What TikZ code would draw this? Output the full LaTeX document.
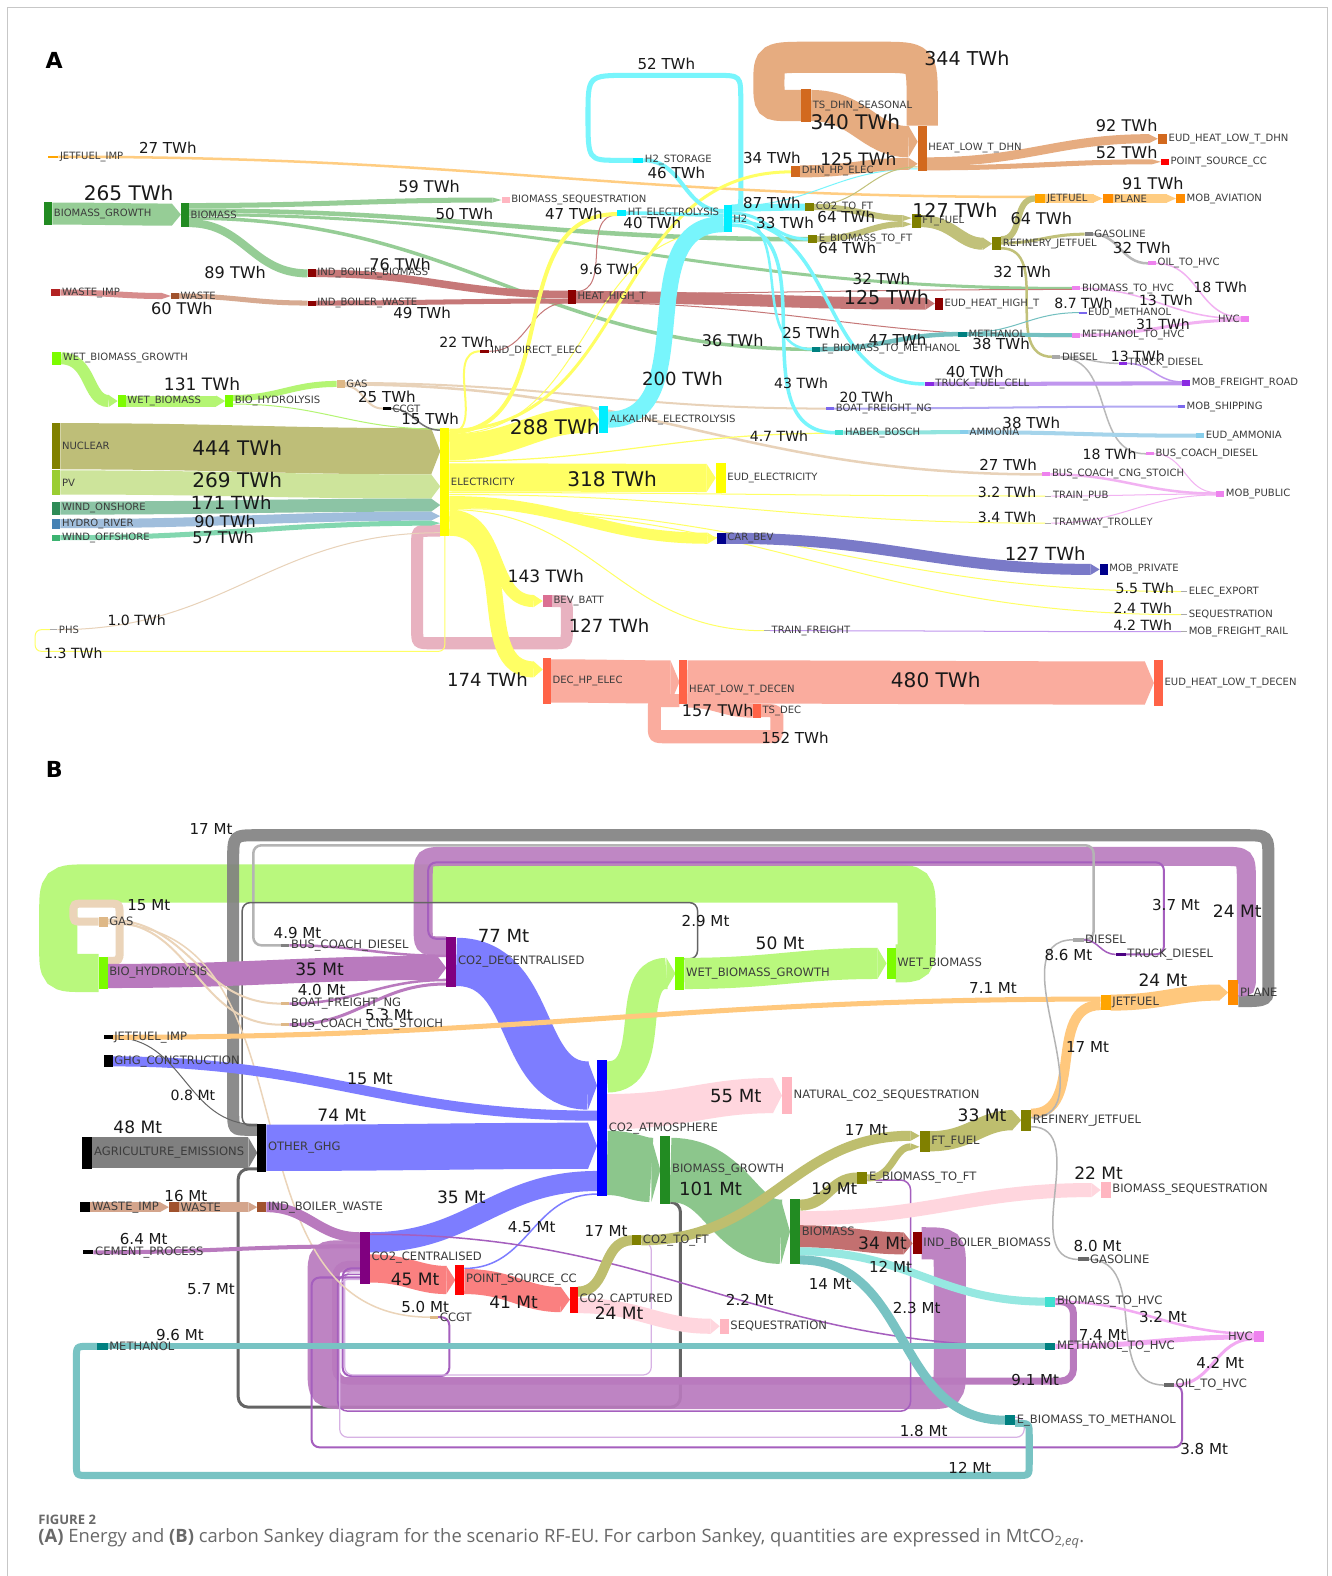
\documentclass[tikz,border=0pt]{standalone}
\usepackage{fontspec}
\setmainfont{DejaVu Sans}
\newfontfamily\capfont{Open Sans}
\usetikzlibrary{calc,arrows.meta}
\pgfdeclarelayer{back}
\pgfdeclarelayer{links}
\pgfsetlayers{back,links,main}
% node colours
\definecolor{nGreen}{RGB}{34,139,34}
\definecolor{nDred}{RGB}{139,0,0}
\definecolor{nFire}{RGB}{178,34,34}
\definecolor{nSienna}{RGB}{160,82,45}
\definecolor{nChoc}{RGB}{210,105,30}
\definecolor{nCyan}{RGB}{0,238,255}
\definecolor{nOlive}{RGB}{128,128,0}
\definecolor{nOrange}{RGB}{255,140,0}
\definecolor{nJet}{RGB}{255,165,0}
\definecolor{nGray}{RGB}{128,128,128}
\definecolor{nDgray}{RGB}{105,105,105}
\definecolor{nLgray}{RGB}{169,169,169}
\definecolor{nViolet}{RGB}{238,130,238}
\definecolor{nTeal}{RGB}{0,128,128}
\definecolor{nBviolet}{RGB}{138,43,226}
\definecolor{nMslate}{RGB}{123,104,238}
\definecolor{nTurq}{RGB}{64,224,208}
\definecolor{nSky}{RGB}{135,206,235}
\definecolor{nYellow}{RGB}{255,255,0}
\definecolor{nNavy}{RGB}{0,0,139}
\definecolor{nPvr}{RGB}{219,112,147}
\definecolor{nTomato}{RGB}{255,99,71}
\definecolor{nYgreen}{RGB}{154,205,50}
\definecolor{nSea}{RGB}{46,139,87}
\definecolor{nSteel}{RGB}{70,130,180}
\definecolor{nMsea}{RGB}{60,179,113}
\definecolor{nLawn}{RGB}{124,252,0}
\definecolor{nBurly}{RGB}{222,184,135}
\definecolor{nPink}{RGB}{255,182,193}
\definecolor{nRed}{RGB}{255,0,0}
\definecolor{nPurple}{RGB}{128,0,128}
\definecolor{nBlue}{RGB}{0,0,255}
\definecolor{nIndigo}{RGB}{75,0,130}
% link colours A
\definecolor{lgr}{RGB}{150,205,150}
\definecolor{jfl}{RGB}{255,205,130}
\definecolor{wredl}{RGB}{215,140,140}
\definecolor{tanl}{RGB}{215,170,145}
\definecolor{redl}{RGB}{198,120,120}
\definecolor{cyl}{RGB}{120,245,252}
\definecolor{dhnl}{RGB}{230,172,128}
\definecolor{olvl}{RGB}{193,193,122}
\definecolor{yel}{RGB}{255,255,100}
\definecolor{vil}{RGB}{242,178,242}
\definecolor{tel}{RGB}{115,192,192}
\definecolor{gyl}{RGB}{185,185,185}
\definecolor{pul}{RGB}{192,150,238}
\definecolor{sbl}{RGB}{178,168,242}
\definecolor{hbl}{RGB}{145,228,222}
\definecolor{aml}{RGB}{165,212,235}
\definecolor{bevl}{RGB}{122,122,200}
\definecolor{salm}{RGB}{250,172,158}
\definecolor{bpink}{RGB}{232,178,192}
\definecolor{nucl}{RGB}{190,190,120}
\definecolor{pvl}{RGB}{205,228,155}
\definecolor{wonl}{RGB}{140,196,165}
\definecolor{hydl}{RGB}{160,190,220}
\definecolor{wofl}{RGB}{130,215,175}
\definecolor{lawnl}{RGB}{180,245,115}
\definecolor{gasl}{RGB}{232,210,185}
% link colours B
\definecolor{lawnB}{RGB}{185,248,125}
\definecolor{purB}{RGB}{185,122,190}
\definecolor{purT}{RGB}{165,95,190}
\definecolor{purL}{RGB}{215,178,228}
\definecolor{blueB}{RGB}{125,125,255}
\definecolor{pinkB}{RGB}{255,214,222}
\definecolor{grnB}{RGB}{140,198,140}
\definecolor{grayB}{RGB}{128,128,128}
\definecolor{dkg}{RGB}{100,100,100}
\definecolor{jflB}{RGB}{255,200,125}
\definecolor{tanB}{RGB}{212,165,140}
\definecolor{salB}{RGB}{250,128,128}
\definecolor{olvB}{RGB}{190,190,110}
\definecolor{gyB}{RGB}{180,180,180}
\definecolor{redB}{RGB}{195,112,112}
\definecolor{turB}{RGB}{150,232,225}
\definecolor{telB}{RGB}{120,195,195}
\definecolor{vilB}{RGB}{242,170,242}
\definecolor{gasC}{RGB}{235,212,185}
\definecolor{lblc}{RGB}{60,60,60}
\definecolor{capc}{RGB}{105,105,105}
\definecolor{valc}{RGB}{25,25,25}

\newcommand{\snd}[8][]{%
  \node[box,minimum width=#5pt,minimum height=#6pt,fill=#7] (#2) at (#3,#4) {};
  \node[lbl,#1] (#2t) at (#2.east) {#8};}
\newcommand{\slk}[7][]{%
  \draw[line width=#6pt,draw=#7,#1] (#2.east |- 0,#3) to[out=0,in=180,looseness=1.1] (#4.west |- 0,#5);}

\begin{document}
\begin{tikzpicture}[x=1pt,y=-1pt,
  box/.style={inner sep=0pt,outer sep=0pt,anchor=north west,draw=none},
  lbl/.style={font=\fontsize{10}{10}\selectfont,text=lblc,anchor=west,inner sep=1.5pt},
  v/.style={font=\fontsize{#1}{#1}\selectfont,inner sep=0pt,text=valc},
  arr/.style={-{Triangle[length=9pt,width=0pt 1,line width=0pt]}},
]
\useasboundingbox (0,0) rectangle (1325,1568);
\begin{pgfonlayer}{back}
\fill[white] (0,0) rectangle (1325,1568);
\draw[black!22,line width=1pt] (7,1568) -- (7,7) -- (1321,7) -- (1321,1568);
\end{pgfonlayer}

\node[font=\fontsize{22}{22}\selectfont\bfseries] (pA) at (54,60) {A};
\node[font=\fontsize{22}{22}\selectfont\bfseries] (pB) at (54,766) {B};

% ================= PANEL A nodes =================
\snd{jfimp}{48}{155}{10}{2}{nJet}{JETFUEL\_IMP}
\snd{bg}{44}{201}{8}{23}{nGreen}{BIOMASS\_GROWTH}
\snd{bm}{180}{202}{8}{24}{nGreen}{BIOMASS}
\snd{bseq}{499}{196}{8}{6}{nPink}{BIOMASS\_SEQUESTRATION}
\snd{ibb}{306}{268}{8}{8}{nDred}{IND\_BOILER\_BIOMASS}
\snd{wimp}{51}{288}{9}{6}{nFire}{WASTE\_IMP}
\snd{wst}{170}{292}{8}{5}{nSienna}{WASTE}
\snd{ibw}{306}{299}{8}{5}{nDred}{IND\_BOILER\_WASTE}
\snd{hht}{565}{289}{8}{13}{nDred}{HEAT\_HIGH\_T}
\snd{eudhh}{930}{296}{8}{12}{nDred}{EUD\_HEAT\_HIGH\_T}
\snd{ide}{478}{348}{9}{3}{nDred}{IND\_DIRECT\_ELEC}
\snd{tsd}{797}{89}{10}{32}{nChoc}{TS\_DHN\_SEASONAL}
\snd{hld}{913}{125}{9}{45}{nChoc}{HEAT\_LOW\_T\_DHN}
\snd{dhp}{787}{165}{9}{11}{nChoc}{DHN\_HP\_ELEC}
\snd{eudhd}{1152}{133}{9}{10}{nChoc}{EUD\_HEAT\_LOW\_T\_DHN}
\snd{psc}{1155}{158}{8}{6}{nRed}{POINT\_SOURCE\_CC}
\snd{h2s}{630}{157}{10}{5}{nCyan}{H2\_STORAGE}
\snd{hte}{614}{209}{9}{6}{nCyan}{HT\_ELECTROLYSIS}
\snd{h2}{720}{204}{8}{27}{nCyan}{H2}
\snd{alk}{596}{404}{9}{27}{nCyan}{ALKALINE\_ELECTROLYSIS}
\snd{c2ft}{801}{202}{9}{8}{nOlive}{CO2\_TO\_FT}
\snd{ebft}{804}{234}{9}{8}{nOlive}{E\_BIOMASS\_TO\_FT}
\snd{ftf}{907}{213}{9}{14}{nOlive}{FT\_FUEL}
\snd{rjf}{987}{236}{9}{13}{nOlive}{REFINERY\_JETFUEL}
\snd{jf}{1030}{193}{10}{9}{nJet}{JETFUEL}
\snd{pl}{1097}{193}{10}{9}{nOrange}{PLANE}
\snd{mav}{1170}{193}{9}{9}{nOrange}{MOB\_AVIATION}
\snd{gsl}{1079}{231}{8}{4}{nGray}{GASOLINE}
\snd{oth}{1142}{260}{8}{4}{nViolet}{OIL\_TO\_HVC}
\snd{bth}{1067}{285}{8}{4}{nViolet}{BIOMASS\_TO\_HVC}
\snd[anchor=east,xshift=-8pt]{hvc}{1235}{314}{8}{6}{nViolet}{HVC}
\snd{eudme}{1074}{310}{7}{2}{nMslate}{EUD\_METHANOL}
\snd{meth}{953}{330}{9}{5}{nTeal}{METHANOL}
\snd{mth}{1067}{331}{8}{5}{nViolet}{METHANOL\_TO\_HVC}
\snd{ebm}{808}{345}{8}{5}{nTeal}{E\_BIOMASS\_TO\_METHANOL}
\snd{dsl}{1047}{353}{8}{4}{nLgray}{DIESEL}
\snd{trd}{1113}{360}{8}{3}{nBviolet}{TRUCK\_DIESEL}
\snd{tfc}{920}{380}{9}{4}{nBviolet}{TRUCK\_FUEL\_CELL}
\snd{mfr}{1176}{378}{8}{6}{nBviolet}{MOB\_FREIGHT\_ROAD}
\snd{bfng}{822}{405}{8}{3}{nMslate}{BOAT\_FREIGHT\_NG}
\snd{mshp}{1172}{403}{7}{3}{nMslate}{MOB\_SHIPPING}
\snd{hb}{831}{428}{8}{5}{nTurq}{HABER\_BOSCH}
\snd{amm}{955}{428}{8}{4}{nSky}{AMMONIA}
\snd{eudam}{1190}{431}{8}{5}{nSky}{EUD\_AMMONIA}
\snd{bcd}{1140}{450}{8}{3}{nViolet}{BUS\_COACH\_DIESEL}
\snd{bccng}{1037}{470}{8}{4}{nViolet}{BUS\_COACH\_CNG\_STOICH}
\snd{mpub}{1210}{489}{8}{5}{nViolet}{MOB\_PUBLIC}
\snd{trp}{1040}{493}{6}{1}{nLgray}{TRAIN\_PUB}
\snd{trm}{1040}{520}{6}{1}{nLgray}{TRAMWAY\_TROLLEY}
\snd{eudel}{712}{461}{10}{29}{nYellow}{EUD\_ELECTRICITY}
\snd{cbev}{713}{530}{9}{11}{nNavy}{CAR\_BEV}
\snd{mpriv}{1094}{561}{8}{11}{nNavy}{MOB\_PRIVATE}
\snd{elex}{1175}{588}{6}{1}{nLgray}{ELEC\_EXPORT}
\snd{seqA}{1175}{611}{6}{1}{nLgray}{SEQUESTRATION}
\snd{mfrail}{1175}{628}{6}{1}{nLgray}{MOB\_FREIGHT\_RAIL}
\snd{trf}{760}{627}{6}{1}{nLgray}{TRAIN\_FREIGHT}
\snd{bevb}{540}{592}{9}{12}{nPvr}{BEV\_BATT}
\snd{dhp2}{540}{655}{8}{45}{nTomato}{DEC\_HP\_ELEC}
\snd[yshift=-8pt]{hldc}{676}{657}{8}{43}{nTomato}{HEAT\_LOW\_T\_DECEN}
\snd{eudhdc}{1148}{657}{9}{45}{nTomato}{EUD\_HEAT\_LOW\_T\_DECEN}
\snd{tsdec}{749}{700}{8}{14}{nTomato}{TS\_DEC}
\snd{nuc}{52}{421}{8}{46}{nOlive}{NUCLEAR}
\snd{pv}{52}{468}{8}{24}{nYgreen}{PV}
\snd{won}{52}{499}{8}{13}{nSea}{WIND\_ONSHORE}
\snd{hyd}{52}{516}{8}{10}{nSteel}{HYDRO\_RIVER}
\snd{wof}{52}{532}{8}{6}{nMsea}{WIND\_OFFSHORE}
\snd{elc}{438}{426}{9}{107}{nYellow}{ELECTRICITY}
\snd{wbg}{52}{350}{9}{13}{nLawn}{WET\_BIOMASS\_GROWTH}
\snd{wb}{117}{393}{8}{12}{nLawn}{WET\_BIOMASS}
\snd{bh}{224}{393}{8}{12}{nLawn}{BIO\_HYDROLYSIS}
\snd{gas}{335}{378}{8}{8}{nBurly}{GAS}
\snd{ccgt}{381}{405}{8}{3}{black}{CCGT}
\snd{phs}{50}{626}{7}{1}{nLgray}{PHS}

% ================= PANEL B nodes =================
\begin{scope}[lbl/.append style={font=\fontsize{11.5}{11.5}\selectfont}]
\snd{gasB}{98}{912}{9}{10}{nBurly}{GAS}
\snd{bhB}{98}{952}{9}{32}{nLawn}{BIO\_HYDROLYSIS}
\snd{bcdB}{280}{939}{8}{3}{nGray}{BUS\_COACH\_DIESEL}
\snd{co2d}{444}{932}{10}{50}{nPurple}{CO2\_DECENTRALISED}
\snd{bfngB}{280}{997}{8}{3}{nBurly}{BOAT\_FREIGHT\_NG}
\snd{bccB}{280}{1018}{8}{3}{nBurly}{BUS\_COACH\_CNG\_STOICH}
\snd{wbgB}{672}{952}{9}{33}{nLawn}{WET\_BIOMASS\_GROWTH}
\snd{wbB}{882}{943}{9}{31}{nLawn}{WET\_BIOMASS}
\snd{dslB}{1068}{933}{10}{4}{nLgray}{DIESEL}
\snd{trdB}{1110}{948}{10}{3}{nIndigo}{TRUCK\_DIESEL}
\snd{jfB}{1095}{990}{10}{15}{nJet}{JETFUEL}
\snd{plB}{1222}{975}{10}{25}{nOrange}{PLANE}
\snd{jfimpB}{103}{1030}{9}{4}{black}{JETFUEL\_IMP}
\snd{ghgc}{103}{1050}{9}{12}{black}{GHG\_CONSTRUCTION}
\snd{co2a}{594}{1055}{10}{135}{nBlue}{CO2\_ATMOSPHERE}
\snd{ncs}{778}{1072}{10}{36}{nPink}{NATURAL\_CO2\_SEQUESTRATION}
\snd{agr}{82}{1131}{10}{32}{black}{AGRICULTURE\_EMISSIONS}
\snd{oghg}{256}{1118}{9}{48}{black}{OTHER\_GHG}
\snd{ftfB}{915}{1125}{10}{21}{nOlive}{FT\_FUEL}
\snd{rjfB}{1016}{1104}{10}{21}{nOlive}{REFINERY\_JETFUEL}
\snd{bgB}{657}{1130}{10}{68}{nGreen}{BIOMASS\_GROWTH}
\snd{ebftB}{853}{1166}{10}{12}{nOlive}{E\_BIOMASS\_TO\_FT}
\snd{bseqB}{1095}{1176}{10}{16}{nPink}{BIOMASS\_SEQUESTRATION}
\snd{wimpB}{80}{1196}{10}{10}{black}{WASTE\_IMP}
\snd{wstB}{168}{1196}{10}{10}{nSienna}{WASTE}
\snd{ibwB}{256}{1196}{9}{10}{nSienna}{IND\_BOILER\_WASTE}
\snd{bmB}{786}{1193}{10}{65}{nGreen}{BIOMASS}
\snd{ibbB}{908}{1226}{9}{22}{nDred}{IND\_BOILER\_BIOMASS}
\snd{co2c}{358}{1226}{10}{51}{nPurple}{CO2\_CENTRALISED}
\snd{cem}{83}{1244}{10}{4}{black}{CEMENT\_PROCESS}
\snd{c2ftB}{629}{1229}{9}{10}{nOlive}{CO2\_TO\_FT}
\snd{gslB}{1073}{1251}{10}{4}{nDgray}{GASOLINE}
\snd{pscB}{453}{1259}{9}{29}{nRed}{POINT\_SOURCE\_CC}
\snd{ccap}{567}{1280}{8}{26}{nRed}{CO2\_CAPTURED}
\snd{bthB}{1040}{1290}{10}{10}{nTurq}{BIOMASS\_TO\_HVC}
\snd{ccgtB}{428}{1309}{8}{3}{nBurly}{CCGT}
\snd{seqB}{716}{1312}{9}{15}{nPink}{SEQUESTRATION}
\snd[anchor=east,xshift=-10pt]{hvcB}{1248}{1324}{10}{11}{nViolet}{HVC}
\snd{methB}{97}{1336}{10}{7}{nTeal}{METHANOL}
\snd{mthB}{1040}{1336}{10}{7}{nTeal}{METHANOL\_TO\_HVC}
\snd{othB}{1158}{1376}{10}{4}{nDgray}{OIL\_TO\_HVC}
\snd{ebmB}{1000}{1408}{10}{10}{nTeal}{E\_BIOMASS\_TO\_METHANOL}
\end{scope}

\begin{pgfonlayer}{links}
% ================= PANEL A links =================
\draw[line width=31pt,dhnl] (hld.north) -- (917.5,100) .. controls (917.5,57) .. (875,57) -- (805,57) .. controls (765,57) .. (765,82) .. controls (765,105) .. (785,105) -- (tsd.west);
\draw[line width=5pt,cyl] (h2.east |- 0,206) .. controls (737,206) .. (737,197) -- (737,100) .. controls (737,75) .. (712,75) -- (625,75) .. controls (585,75) .. (585,115) .. controls (585,159.5) .. (615,159.5) -- (h2s.west);
\draw[line width=12pt,bpink] (bevb.east) -- (552,598) .. controls (564,598) .. (564,611) -- (564,625) .. controls (564,640) .. (550,640) -- (430,640) .. controls (415,640) .. (415,625) -- (415,543) .. controls (415,528) .. (428,528) -- (elc.west |- 0,528);
\draw[line width=13pt,salm] (tsdec.east) -- (760,707) .. controls (773,707) .. (773,718) -- (773,722) .. controls (773,733) .. (760,733) -- (663,733) .. controls (651,733) .. (651,721) -- (651,708) .. controls (651,697) .. (663,697) -- (hldc.west |- 0,697);
\draw[line width=1pt,yel,rounded corners=6pt] (elc.south) |- (35,648) |- (phs.west);

\slk{jfimp}{156}{jf}{196}{2.5}{jfl}
\slk[arr]{bg}{212.5}{bm}{213.5}{22}{lgr}
\slk[arr]{bm}{204.5}{bseq}{199}{5}{lgr}
\slk{bm}{209.5}{ebft}{238}{4.5}{lgr}
\slk{bm}{213.5}{bth}{287}{3}{lgr}
\slk{bm}{217}{ebm}{347.5}{3.5}{lgr}
\slk{bm}{222}{ibb}{272}{8}{lgr}
\slk{ibb}{272}{hht}{293}{7.5}{redl}
\slk[arr]{wimp}{291}{wst}{294.5}{6}{wredl}
\slk{wst}{294.5}{ibw}{301.5}{5}{tanl}
\slk{ibw}{301.5}{hht}{299.5}{5}{redl}
\slk[arr]{hht}{295.5}{eudhh}{302}{12}{redl}
\slk{hht}{290}{hte}{214}{1}{redl}
\slk{hht}{292}{bth}{288}{1}{redl}
\slk{hht}{301}{mth}{335}{1}{redl}
\slk{ide}{349.5}{hht}{301}{1}{redl}

\slk[arr]{nuc}{444}{elc}{449}{46}{nucl}
\slk[arr]{pv}{480}{elc}{484}{24}{pvl}
\slk[arr]{won}{505.5}{elc}{502.5}{13}{wonl}
\slk[arr]{hyd}{521}{elc}{513.5}{9}{hydl}
\slk[arr]{wof}{535}{elc}{520.5}{5}{wofl}

\slk[arr]{wbg}{356.5}{wb}{399}{12}{lawnl}
\slk[arr]{wb}{399}{bh}{399}{11}{lawnl}
\slk{bh}{396}{gas}{382}{6}{lawnl}
\slk{bh}{402}{elc}{427}{1}{lawnl}
\slk{gas}{381}{bfng}{406.5}{2}{gasl}
\slk{gas}{382.5}{bccng}{472}{2.5}{gasl}
\slk{gas}{384}{ccgt}{406.5}{2}{gasl}
\slk{ccgt}{406.5}{elc}{428}{1.5}{black!55}
\slk{phs}{626.5}{elc}{530}{1}{gasl}

\slk[arr]{elc}{475}{eudel}{475.5}{28}{yel}
\slk[arr]{elc}{499}{cbev}{535.5}{11}{yel}
\slk[arr]{elc}{513}{bevb}{598}{12}{yel}
\slk[arr]{elc}{525}{dhp2}{666}{16}{yel}
\slk{elc}{428}{dhp}{171}{3}{yel}
\slk{elc}{430}{hte}{213}{4}{yel}
\slk{elc}{431}{ide}{349.5}{2}{yel}
\slk{elc}{432}{h2}{229}{1}{yel}
\slk{elc}{459}{hb}{431}{1.2}{yel}
\slk{elc}{490}{trp}{493.5}{1}{yel}
\slk{elc}{492}{trm}{520.5}{1}{yel}
\slk{elc}{505}{elex}{588.5}{1}{yel}
\slk{elc}{506}{seqA}{611.5}{1}{yel}
\slk{elc}{507}{trf}{627.5}{1}{yel}

\slk{h2s}{159.5}{h2}{210}{4}{cyl}
\slk{hte}{212}{h2}{214}{3.5}{cyl}
\slk{alk}{417.5}{h2}{223}{16}{cyl}
\slk[arr]{elc}{445}{alk}{417.5}{26}{yel}
\slk{h2}{207}{c2ft}{206}{7}{cyl}
\slk{h2}{212}{ebft}{238}{3}{cyl}
\slk{h2}{205}{hld}{168}{1}{cyl}
\slk{h2}{216}{ebm}{347.5}{2.5}{cyl}
\slk{h2}{220}{tfc}{382}{3.5}{cyl}
\slk{h2}{224}{hb}{430.5}{3.5}{cyl}

\slk[arr]{tsd}{105}{hld}{141}{31}{dhnl}
\slk[arr]{dhp}{170.5}{hld}{163}{12}{dhnl}
\slk[arr]{hld}{161}{eudhd}{138}{9}{dhnl}
\slk[arr]{hld}{167}{psc}{161}{5}{dhnl}

\slk[arr]{c2ft}{206}{ftf}{217}{6}{olvl}
\slk[arr]{ebft}{238}{ftf}{223}{6}{olvl}
\slk{c2ft}{204}{hld}{166}{1}{olvl}
\slk[arr]{ftf}{220}{rjf}{242.5}{12}{olvl}
\slk{rjf}{238}{jf}{197.5}{6}{olvl}
\slk{rjf}{242}{gsl}{233}{3}{olvl}
\slk{rjf}{247}{dsl}{355}{2.5}{olvl}
\slk[arr]{jf}{197.5}{pl}{197.5}{8}{jfl}
\slk[arr]{pl}{197.5}{mav}{197.5}{8}{jfl}
\slk{gsl}{233}{oth}{262}{2.5}{gyl}
\slk{oth}{262}{hvc}{315.5}{1.5}{vil}
\slk{bth}{287}{hvc}{317}{1.5}{vil}
\slk{mth}{333.5}{hvc}{318.5}{3}{vil}
\slk{meth}{332.5}{mth}{333.5}{4}{tel}
\slk{meth}{331}{eudme}{311}{1}{tel}
\slk{ebm}{347.5}{meth}{332.5}{4.5}{tel}
\slk{dsl}{355}{trd}{361.5}{1.5}{gyl}
\slk{dsl}{356}{bcd}{451.5}{1.5}{gyl}
\slk{trd}{361.5}{mfr}{380}{1.5}{pul}
\slk{tfc}{382}{mfr}{381.5}{4}{pul}
\slk{bfng}{406.5}{mshp}{404.5}{2}{sbl}
\slk{hb}{430.5}{amm}{430}{4}{hbl}
\slk{amm}{430}{eudam}{433.5}{4}{aml}
\slk{bcd}{451.5}{mpub}{490}{1}{vil}
\slk{bccng}{472}{mpub}{491}{2.5}{vil}
\slk{trp}{493.5}{mpub}{491.5}{1}{vil}
\slk{trm}{520.5}{mpub}{492.5}{1}{vil}
\slk[arr]{cbev}{535.5}{mpriv}{566.5}{11}{bevl}
\slk{trf}{627.5}{mfrail}{628.5}{1}{pul}
\slk[arr]{dhp2}{677.5}{hldc}{678.5}{43}{salm}
\slk[arr]{hldc}{678.5}{eudhdc}{679.5}{43}{salm}
\slk{hldc}{697}{tsdec}{707}{14}{salm}

% ================= PANEL B links =================
\draw[line width=38pt,lawnB] (wbB.east) .. controls (912,958.5) .. (912,935) -- (912,909) .. controls (912,879) .. (882,879) -- (88,879) .. controls (58,879) .. (58,909) -- (58,943) .. controls (58,968) .. (83,968) -- (bhB.west);
\draw[line width=8pt,gasC] (bhB.east |- 0,956) .. controls (119,956) .. (119,946) -- (119,911) .. controls (119,899) .. (107,899) -- (85,899) .. controls (73,899) .. (73,908) .. controls (73,917) .. (85,917) -- (gasB.west);
\draw[line width=12pt,grayB,opacity=.9] (plB.east |- 0,996) .. controls (1262,996) .. (1262,976) -- (1262,856) .. controls (1262,831) .. (1237,831) -- (257,831) .. controls (232,831) .. (232,856) -- (232,1104) .. controls (232,1124) .. (248,1124) -- (oghg.west |- 0,1124);
\draw[line width=19pt,purB,opacity=.9] (plB.east |- 0,982) .. controls (1240,982) .. (1240,972) -- (1240,877) .. controls (1240,852) .. (1215,852) -- (446,852) .. controls (421,852) .. (421,877) -- (421,921) .. controls (421,941) .. (436,941) -- (co2d.west |- 0,941);
\draw[line width=2pt,purT,rounded corners=8pt] (trdB.east) -- (1158,949.5) -- (1158,858) -- (426,858) -- (426,934) -- (co2d.west |- 0,934);
\draw[line width=2.5pt,gyB,rounded corners=8pt] (dslB.east) -- (1088,935) -- (1088,841) -- (252,841) -- (252,940.5) -- (bcdB.west);
\draw[line width=1.5pt,dkg,rounded corners=8pt] (wbgB.east |- 0,954) -- (694,954) -- (694,898) -- (241,898) -- (241,1120) -- (oghg.west |- 0,1120);
\draw[line width=3pt,dkg,rounded corners=10pt] (bgB.east |- 0,1196) -- (677,1196) -- (677,1400) -- (237,1400) -- (237,1163) -- (oghg.west |- 0,1163);
\draw[line width=32pt,purB,opacity=.92] (ibbB.east) .. controls (945,1237) .. (945,1262) -- (945,1361) .. controls (945,1386) .. (920,1386) -- (347,1386) .. controls (322,1386) .. (322,1361) -- (322,1270) .. controls (322,1250) .. (342,1250) -- (co2c.west |- 0,1250);
\draw[line width=7pt,purB,rounded corners=12pt] (bthB.east) -- (1068,1295) -- (1068,1374) -- (334,1374) -- (334,1258) -- (co2c.west |- 0,1258);
\draw[line width=2pt,purT,rounded corners=8pt] (ccgtB.east) -- (447,1310.5) -- (447,1369) -- (341,1369) -- (341,1262) -- (co2c.west |- 0,1262);
\draw[line width=1.2pt,purL,rounded corners=8pt] (c2ftB.east |- 0,1236) -- (648,1236) -- (648,1368) -- (343,1368) -- (343,1265) -- (co2c.west |- 0,1265);
\draw[line width=1.5pt,purT,rounded corners=10pt] (ebftB.east |- 0,1174) -- (906,1174) -- (906,1404) -- (336,1404) -- (336,1268) -- (co2c.west |- 0,1268);
\draw[line width=2pt,purT,rounded corners=8pt] (othB.east) -- (1176,1378) -- (1176,1440) -- (310,1440) -- (310,1271) -- (co2c.west |- 0,1271);
\draw[line width=1.2pt,purL,rounded corners=8pt] (ebmB.east |- 0,1410) -- (1019,1410) -- (1019,1430) -- (338,1430) -- (338,1273) -- (co2c.west |- 0,1273);
\draw[line width=7pt,telB] (ebmB.east |- 0,1416) .. controls (1024,1416) .. (1024,1428) -- (1024,1456) .. controls (1024,1468) .. (1012,1468) -- (88,1468) .. controls (76,1468) .. (76,1456) -- (76,1352) .. controls (76,1339.5) .. (88,1339.5) -- (methB.west);

\slk[arr]{wbgB}{968.5}{wbB}{958.5}{31}{lawnB}
\slk[arr]{co2a}{1071.5}{wbgB}{968.5}{31}{lawnB}
\slk[arr]{co2a}{1106}{ncs}{1090}{35}{pinkB}
\slk[arr]{co2a}{1157}{bgB}{1164}{64}{grnB}
\slk[arr]{bgB}{1164}{bmB}{1225.5}{64}{grnB}
\slk[arr]{bhB}{971}{co2d}{963}{24}{purB}
\slk{bcdB}{940.5}{co2d}{951}{2.5}{purB}
\slk{bfngB}{998.5}{co2d}{975}{2.5}{purB}
\slk{bccB}{1019.5}{co2d}{979}{3}{purB}
\slk{gasB}{915}{bfngB}{998.5}{2}{gasC}
\slk{gasB}{917}{bccB}{1019.5}{2}{gasC}
\slk{gasB}{919}{ccgtB}{1310.5}{1.5}{gasC}
\slk[arr]{co2d}{957}{co2a}{1080}{48}{blueB}
\slk{ghgc}{1056}{co2a}{1110}{10}{blueB}
\slk[arr]{oghg}{1142}{co2a}{1140}{46}{blueB}
\slk{co2c}{1236}{co2a}{1175}{20}{blueB}
\slk{pscB}{1262}{co2a}{1188}{1.5}{blueB}
\slk[arr]{agr}{1147}{oghg}{1147}{31}{grayB}
\slk{jfimpB}{1032}{oghg}{1119}{1}{dkg}
\slk{jfimpB}{1032}{jfB}{994}{5}{jflB}
\slk[arr]{wimpB}{1201}{wstB}{1201}{10}{tanB}
\slk[arr]{wstB}{1201}{ibwB}{1201}{10}{tanB}
\slk{ibwB}{1201}{co2c}{1231}{10}{purB}
\slk{cem}{1246}{co2c}{1240}{4}{purB}
\slk[arr]{co2c}{1262}{pscB}{1273.5}{28}{salB}
\slk[arr]{pscB}{1275}{ccap}{1293}{25}{salB}
\slk[arr]{ccap}{1299}{seqB}{1319.5}{15}{pinkB}
\slk{co2c}{1228}{mthB}{1340}{1.5}{purT}
\slk[arr]{bmB}{1212}{bseqB}{1184}{14}{pinkB}
\slk[arr]{bmB}{1230}{ibbB}{1237}{22}{redB}
\slk{bmB}{1245}{bthB}{1295}{8}{turB}
\slk{bmB}{1253.5}{ebmB}{1413}{9}{telB}
\slk{ccap}{1285}{c2ftB}{1234}{10}{olvB}
\slk[arr]{c2ftB}{1234}{ftfB}{1130}{10}{olvB}
\slk{bmB}{1199}{ebftB}{1172}{11}{olvB}
\slk[arr]{ebftB}{1172}{ftfB}{1141}{7}{olvB}
\slk[arr]{ftfB}{1135.5}{rjfB}{1114.5}{20}{olvB}
\slk{rjfB}{1108}{jfB}{1000}{10}{jflB}
\slk{rjfB}{1112}{dslB}{935}{1.5}{gyB}
\slk{rjfB}{1121}{gslB}{1253}{1.5}{gyB}
\slk[arr]{jfB}{997.5}{plB}{987.5}{16}{jflB}
\slk{dslB}{935}{trdB}{949.5}{1.5}{purT}
\slk{gslB}{1253}{othB}{1378}{1.5}{gyB}
\slk{methB}{1339.5}{mthB}{1339.5}{6}{telB}
\slk{mthB}{1339.5}{hvcB}{1330}{5}{vilB}
\slk{bthB}{1295}{hvcB}{1327}{2.5}{vilB}
\slk{othB}{1378}{hvcB}{1332}{3}{vilB}
\end{pgfonlayer}

% values A
\node[v=15] (va01) at (167,147) {27 TWh};
\node[v=20] (va02) at (128,192) {265 TWh};
\node[v=16] (va03) at (427,186) {59 TWh};
\node[v=15] (va04) at (462,213) {50 TWh};
\node[v=16] (va05) at (234,271) {89 TWh};
\node[v=16] (va06) at (398,263) {76 TWh};
\node[v=16] (va07) at (181,307) {60 TWh};
\node[v=15] (va08) at (420,311) {49 TWh};
\node[v=14] (va09) at (464,340) {22 TWh};
\node[v=14] (va10) at (606,268) {9.6 TWh};
\node[v=15] (va11) at (663,64) {52 TWh};
\node[v=15] (va12) at (768,157) {34 TWh};
\node[v=17] (va13) at (854,158) {125 TWh};
\node[v=15] (va14) at (673,172) {46 TWh};
\node[v=15] (va15) at (571,213) {47 TWh};
\node[v=15] (va16) at (649,222) {40 TWh};
\node[v=15] (va17) at (768,202) {87 TWh};
\node[v=15] (va18) at (781,222) {33 TWh};
\node[v=15] (va19) at (842,216) {64 TWh};
\node[v=15] (va20) at (843,247) {64 TWh};
\node[v=19] (va21) at (950,209) {127 TWh};
\node[v=16] (va22) at (1036,217) {64 TWh};
\node[v=20] (va23) at (851,121) {340 TWh};
\node[v=19] (va24) at (962,58) {344 TWh};
\node[v=16] (va25) at (1121,125) {92 TWh};
\node[v=16] (va26) at (1121,152) {52 TWh};
\node[v=16] (va27) at (1147,183) {91 TWh};
\node[v=15] (va28) at (1136,247) {32 TWh};
\node[v=15] (va29) at (1017,270) {32 TWh};
\node[v=15] (va30) at (877,277) {32 TWh};
\node[v=19] (va31) at (882,296) {125 TWh};
\node[v=14] (va32) at (1214,286) {18 TWh};
\node[v=14] (va33) at (1078,302) {8.7 TWh};
\node[v=14] (va34) at (1160,299) {13 TWh};
\node[v=14] (va35) at (1157,323) {31 TWh};
\node[v=16] (va36) at (729,339) {36 TWh};
\node[v=15] (va37) at (807,331) {25 TWh};
\node[v=15] (va38) at (893,338) {47 TWh};
\node[v=15] (va39) at (996,342) {38 TWh};
\node[v=14] (va40) at (1132,354) {13 TWh};
\node[v=15] (va41) at (970,370) {40 TWh};
\node[v=18] (va42) at (679,377) {200 TWh};
\node[v=14] (va43) at (797,381) {43 TWh};
\node[v=14] (va44) at (862,395) {20 TWh};
\node[v=17] (va45) at (201,382) {131 TWh};
\node[v=15] (va46) at (385,395) {25 TWh};
\node[v=15] (va47) at (428,417) {15 TWh};
\node[v=20] (va48) at (552,425) {288 TWh};
\node[v=14] (va49) at (775,434) {4.7 TWh};
\node[v=15] (va50) at (1026,421) {38 TWh};
\node[v=14] (va51) at (1104,452) {18 TWh};
\node[v=20] (va52) at (236,446) {444 TWh};
\node[v=20] (va53) at (236,478) {269 TWh};
\node[v=18] (va54) at (230,500) {171 TWh};
\node[v=16] (va55) at (224,519) {90 TWh};
\node[v=16] (va56) at (222,535) {57 TWh};
\node[v=20] (va57) at (609,477) {318 TWh};
\node[v=15] (va58) at (1003,462) {27 TWh};
\node[v=14] (va59) at (1002,490) {3.2 TWh};
\node[v=14] (va60) at (1002,515) {3.4 TWh};
\node[v=18] (va61) at (1040,551) {127 TWh};
\node[v=17] (va62) at (543,573) {143 TWh};
\node[v=14] (va63) at (1139,585) {5.5 TWh};
\node[v=14] (va64) at (1137,605) {2.4 TWh};
\node[v=14] (va65) at (1137,622) {4.2 TWh};
\node[v=14] (va66) at (136,617) {1.0 TWh};
\node[v=14] (va67) at (73,650) {1.3 TWh};
\node[v=18] (va68) at (606,622) {127 TWh};
\node[v=18] (va69) at (485,676) {174 TWh};
\node[v=20] (va70) at (931,677) {480 TWh};
\node[v=16] (va71) at (714,707) {157 TWh};
\node[v=15] (va72) at (791,734) {152 TWh};

% values B
\node[v=15] (vb01) at (210,825) {17 Mt};
\node[v=15] (vb02) at (148,901) {15 Mt};
\node[v=15] (vb03) at (296,928) {4.9 Mt};
\node[v=18] (vb04) at (501,931) {77 Mt};
\node[v=17] (vb05) at (318,964) {35 Mt};
\node[v=15] (vb06) at (320,985) {4.0 Mt};
\node[v=15] (vb07) at (387,1010) {5.3 Mt};
\node[v=15] (vb08) at (702,916) {2.9 Mt};
\node[v=17] (vb09) at (776,938) {50 Mt};
\node[v=15] (vb10) at (1170,900) {3.7 Mt};
\node[v=17] (vb11) at (1231,907) {24 Mt};
\node[v=15] (vb12) at (1063,950) {8.6 Mt};
\node[v=17] (vb13) at (1157,975) {24 Mt};
\node[v=15] (vb14) at (988,983) {7.1 Mt};
\node[v=15] (vb15) at (1082,1042) {17 Mt};
\node[v=16] (vb16) at (368,1073) {15 Mt};
\node[v=14] (vb17) at (192,1090) {0.8 Mt};
\node[v=18] (vb18) at (732,1090) {55 Mt};
\node[v=17] (vb19) at (137,1122) {48 Mt};
\node[v=17] (vb20) at (340,1110) {74 Mt};
\node[v=17] (vb21) at (977,1110) {33 Mt};
\node[v=15] (vb22) at (862,1124) {17 Mt};
\node[v=17] (vb23) at (1093,1167) {22 Mt};
\node[v=18] (vb24) at (707,1183) {101 Mt};
\node[v=16] (vb25) at (830,1183) {19 Mt};
\node[v=15] (vb26) at (185,1190) {16 Mt};
\node[v=17] (vb27) at (459,1191) {35 Mt};
\node[v=15] (vb28) at (529,1221) {4.5 Mt};
\node[v=15] (vb29) at (603,1225) {17 Mt};
\node[v=17] (vb30) at (878,1237) {34 Mt};
\node[v=15] (vb31) at (143,1233) {6.4 Mt};
\node[v=15] (vb32) at (1092,1240) {8.0 Mt};
\node[v=15] (vb33) at (886,1260) {12 Mt};
\node[v=15] (vb34) at (826,1277) {14 Mt};
\node[v=17] (vb35) at (413,1273) {45 Mt};
\node[v=15] (vb36) at (210,1283) {5.7 Mt};
\node[v=17] (vb37) at (511,1296) {41 Mt};
\node[v=15] (vb38) at (746,1293) {2.2 Mt};
\node[v=17] (vb39) at (616,1306) {24 Mt};
\node[v=15] (vb40) at (423,1300) {5.0 Mt};
\node[v=15] (vb41) at (912,1301) {2.3 Mt};
\node[v=15] (vb42) at (1157,1310) {3.2 Mt};
\node[v=15] (vb43) at (179,1328) {9.6 Mt};
\node[v=15] (vb44) at (1097,1328) {7.4 Mt};
\node[v=15] (vb45) at (1214,1356) {4.2 Mt};
\node[v=15] (vb46) at (1030,1373) {9.1 Mt};
\node[v=15] (vb47) at (919,1424) {1.8 Mt};
\node[v=15] (vb48) at (1198,1442) {3.8 Mt};
\node[v=15] (vb49) at (965,1460) {12 Mt};

% caption
\node[anchor=west,inner sep=0pt,text=capc,font={\capfont\fontsize{13}{14}\selectfont\bfseries}] (fig) at (38,1512) {FIGURE 2};
\node[anchor=west,inner sep=0pt,text=capc,font={\capfont\fontsize{18.3}{19}\selectfont}] (cap) at (38,1531) {\textbf{(A)} Energy and \textbf{(B)} carbon Sankey diagram for the scenario RF-EU. For carbon Sankey, quantities are expressed in MtCO\textsubscript{2,\textit{eq}}.};
\end{tikzpicture}
\end{document}
